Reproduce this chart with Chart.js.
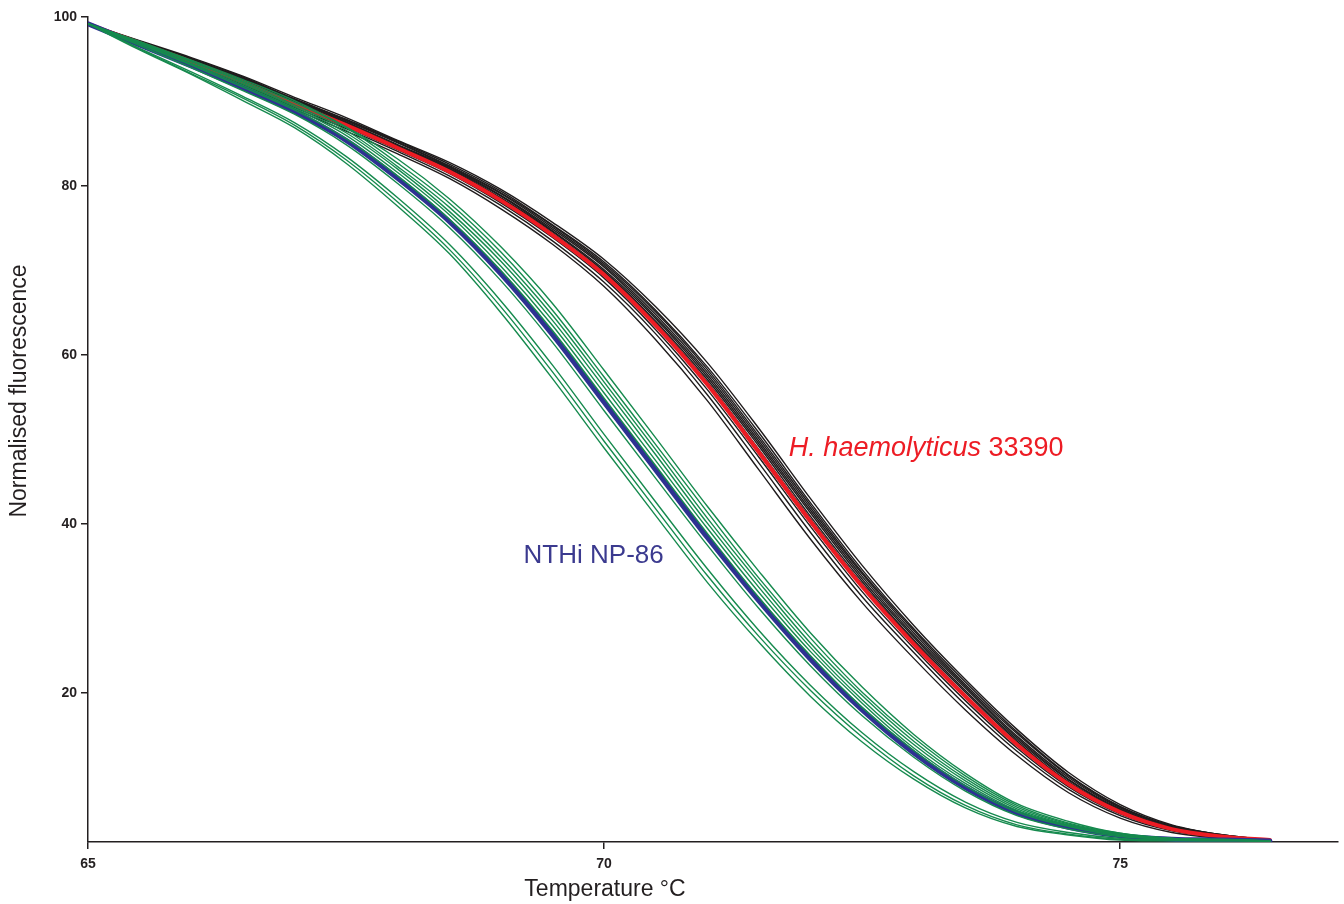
<!DOCTYPE html>
<html>
<head>
<meta charset="utf-8">
<script src="https://cdn.jsdelivr.net/npm/chart.js@4.4.1/dist/chart.umd.min.js"></script>
<style>
  html, body { margin: 0; padding: 0; background: #fff; }
  #wrap { width: 1344px; height: 904px; }
</style>
</head>
<body>
<div id="wrap"><canvas id="melt_Chart" width="1344" height="904"></canvas></div>
<script>
// temperature points (°C)
const temperature = [65, 65.5, 66, 66.5, 67, 67.5, 68, 68.5, 69, 69.5, 70, 70.5, 71, 71.5, 72, 72.5, 73, 73.5, 74, 74.5, 75, 75.5, 76, 76.45];

// H. haemolyticus 33390 reference (red)
const haemolyticus33390 = [99.2, 96.9, 94.7, 92.3, 89.7, 87.2, 84.5, 81.7, 78.3, 74.2, 69.5, 63.5, 56.5, 48.5, 40.3, 32.6, 25.8, 19.6, 13.9, 9.2, 5.9, 3.9, 3.0, 2.6];

// NTHi NP-86 reference (blue)
const nthiNP86 = [99.2, 96.7, 94.2, 91.6, 88.8, 85.4, 80.9, 75.8, 69.6, 62.4, 54.4, 46.4, 38.4, 30.9, 24.0, 18.0, 12.9, 8.8, 5.8, 4.1, 3.1, 2.7, 2.6, 2.5];

// H. haemolyticus isolates (black)
const hhRun1 = [99.2, 96.7, 94.3, 91.8, 89.1, 86.5, 83.8, 80.9, 77.3, 73.1, 68.1, 61.8, 54.6, 46.4, 38.2, 30.7, 24.1, 18.0, 12.6, 8.2, 5.2, 3.5, 2.8, 2.6];
const hhRun2 = [99.2, 96.8, 94.5, 92.0, 89.3, 86.8, 84.1, 81.2, 77.7, 73.5, 68.6, 62.5, 55.3, 47.2, 39.0, 31.4, 24.8, 18.6, 13.1, 8.6, 5.5, 3.7, 2.9, 2.6];
const hhRun3 = [99.2, 96.8, 94.6, 92.1, 89.5, 87.0, 84.3, 81.5, 78.0, 73.9, 69.1, 63.0, 55.9, 47.9, 39.7, 32.0, 25.3, 19.1, 13.5, 8.9, 5.7, 3.8, 2.9, 2.6];
const hhRun4 = [99.2, 96.9, 94.7, 92.3, 89.7, 87.1, 84.4, 81.6, 78.2, 74.1, 69.4, 63.4, 56.4, 48.3, 40.1, 32.5, 25.7, 19.5, 13.8, 9.1, 5.8, 3.9, 3.0, 2.6];
const hhRun5 = [99.2, 96.9, 94.8, 92.4, 89.8, 87.3, 84.6, 81.8, 78.5, 74.4, 69.7, 63.8, 56.8, 48.8, 40.6, 32.9, 26.1, 19.8, 14.1, 9.4, 6.0, 4.0, 3.0, 2.6];
const hhRun6 = [99.2, 97.0, 94.8, 92.5, 89.9, 87.4, 84.7, 82.0, 78.6, 74.6, 69.9, 64.0, 57.1, 49.2, 40.9, 33.2, 26.3, 20.1, 14.3, 9.5, 6.1, 4.0, 3.1, 2.6];
const hhRun7 = [99.2, 97.0, 94.9, 92.6, 90.0, 87.5, 84.8, 82.1, 78.8, 74.7, 70.1, 64.3, 57.4, 49.5, 41.3, 33.5, 26.6, 20.3, 14.5, 9.7, 6.2, 4.1, 3.1, 2.6];
const hhRun8 = [99.2, 97.0, 94.9, 92.6, 90.1, 87.6, 84.9, 82.2, 78.9, 74.9, 70.4, 64.5, 57.7, 49.8, 41.6, 33.8, 26.8, 20.6, 14.7, 9.8, 6.3, 4.1, 3.1, 2.6];
const hhRun9 = [99.2, 97.1, 95.0, 92.7, 90.2, 87.7, 85.1, 82.3, 79.1, 75.1, 70.6, 64.8, 58.0, 50.1, 41.9, 34.1, 27.1, 20.8, 14.9, 10.0, 6.4, 4.2, 3.1, 2.6];
const hhRun10 = [99.2, 97.1, 95.0, 92.8, 90.3, 87.8, 85.2, 82.4, 79.2, 75.3, 70.8, 65.1, 58.3, 50.4, 42.2, 34.3, 27.4, 21.0, 15.2, 10.2, 6.5, 4.3, 3.2, 2.6];
const hhRun11 = [99.2, 97.1, 95.1, 92.9, 90.3, 87.9, 85.3, 82.6, 79.4, 75.4, 71.0, 65.3, 58.6, 50.8, 42.5, 34.6, 27.6, 21.3, 15.4, 10.3, 6.6, 4.3, 3.2, 2.6];
const hhRun12 = [99.2, 97.2, 95.2, 93.0, 90.5, 88.1, 85.4, 82.8, 79.6, 75.7, 71.3, 65.7, 59.1, 51.3, 43.0, 35.1, 28.0, 21.6, 15.7, 10.6, 6.8, 4.4, 3.2, 2.6];

// NTHi isolates (green)
const nthiRun1 = [99.2, 96.1, 93.2, 90.1, 86.9, 82.7, 77.6, 72.0, 65.0, 57.2, 49.0, 41.0, 33.1, 26.0, 19.6, 14.2, 9.8, 6.4, 4.2, 3.2, 2.6, 2.5, 2.5, 2.5];
const nthiRun2 = [99.2, 96.2, 93.3, 90.4, 87.2, 83.1, 78.1, 72.5, 65.7, 58.0, 49.8, 41.8, 33.9, 26.7, 20.3, 14.8, 10.2, 6.7, 4.4, 3.3, 2.7, 2.6, 2.5, 2.5];
const nthiRun3 = [99.2, 96.3, 93.5, 90.6, 87.5, 83.5, 78.6, 73.1, 66.4, 58.8, 50.6, 42.6, 34.7, 27.4, 20.9, 15.3, 10.7, 7.1, 4.7, 3.5, 2.8, 2.6, 2.6, 2.5];
const nthiRun4 = [99.2, 96.6, 94.0, 91.3, 88.5, 84.9, 80.3, 75.1, 68.8, 61.5, 53.4, 45.4, 37.5, 30.0, 23.2, 17.3, 12.4, 8.4, 5.5, 3.9, 3.0, 2.7, 2.6, 2.5];
const nthiRun5 = [99.2, 96.8, 94.3, 91.7, 89.0, 85.6, 81.2, 76.1, 70.0, 62.9, 54.9, 46.9, 38.9, 31.3, 24.4, 18.3, 13.2, 9.0, 5.9, 4.2, 3.1, 2.7, 2.6, 2.5];
const nthiRun6 = [99.2, 96.8, 94.4, 91.9, 89.2, 86.0, 81.6, 76.6, 70.5, 63.5, 55.5, 47.5, 39.5, 31.9, 24.9, 18.8, 13.5, 9.3, 6.1, 4.3, 3.2, 2.7, 2.6, 2.5];
const nthiRun7 = [99.2, 96.9, 94.5, 92.1, 89.4, 86.3, 82.0, 77.0, 71.1, 64.1, 56.2, 48.2, 40.1, 32.5, 25.4, 19.2, 13.9, 9.6, 6.3, 4.4, 3.3, 2.8, 2.6, 2.5];
const nthiRun8 = [99.2, 97.0, 94.7, 92.3, 89.6, 86.6, 82.3, 77.5, 71.6, 64.7, 56.8, 48.8, 40.7, 33.1, 25.9, 19.7, 14.3, 9.9, 6.5, 4.5, 3.3, 2.8, 2.6, 2.5];
const nthiRun9 = [99.2, 97.0, 94.8, 92.4, 89.9, 86.9, 82.7, 78.0, 72.2, 65.3, 57.4, 49.4, 41.4, 33.6, 26.5, 20.1, 14.7, 10.2, 6.7, 4.6, 3.4, 2.8, 2.6, 2.5];
const nthiRun10 = [99.2, 97.1, 94.9, 92.6, 90.1, 87.0, 83.2, 78.5, 72.8, 66.1, 58.2, 50.2, 42.1, 34.4, 27.1, 20.7, 15.1, 10.5, 6.9, 4.8, 3.4, 2.8, 2.7, 2.5];

const xTicks = [65, 70, 75];
const yTicks = [20, 40, 60, 80, 100];

const hhRuns = [hhRun1, hhRun2, hhRun3, hhRun4, hhRun5, hhRun6, hhRun7, hhRun8, hhRun9, hhRun10, hhRun11, hhRun12];
const nthiRuns = [nthiRun1, nthiRun2, nthiRun3, nthiRun4, nthiRun5, nthiRun6, nthiRun7, nthiRun8, nthiRun9, nthiRun10];

const FONT = '"Liberation Sans", Arial, sans-serif';
const INK = '#231f20';

function toPoints(values) {
    return values.map((v, i) => ({ x: temperature[i], y: v }));
}

function curve(values, color, width, order) {
    return {
        data: toPoints(values),
        borderColor: color,
        borderWidth: width,
        pointRadius: 0,
        fill: false,
        cubicInterpolationMode: 'monotone',
        borderCapStyle: 'round',
        borderJoinStyle: 'round',
        order: order
    };
}

const datasets = [];
hhRuns.forEach(r => datasets.push(curve(r, '#1f1b1c', 1.4, 4)));
datasets.push(curve(haemolyticus33390, '#ed1c24', 4, 3));
datasets.push(curve(nthiNP86, '#2e3192', 5, 2));
nthiRuns.forEach(r => datasets.push(curve(r, '#168a4e', 1.4, 1)));

// axis titles and curve labels
const textPlugin = {
    id: 'textPlugin',
    afterDraw(chart) {
        const ctx = chart.ctx;
        const xs = chart.scales.x;
        const ys = chart.scales.y;
        ctx.save();
        ctx.fillStyle = INK;
        ctx.font = '23px ' + FONT;
        ctx.textAlign = 'center';
        ctx.textBaseline = 'middle';
        ctx.fillText('Temperature °C', 605, 890);
        ctx.translate(20, 391);
        ctx.rotate(-Math.PI / 2);
        ctx.fillText('Normalised fluorescence', 0, 0);
        ctx.restore();

        ctx.save();
        ctx.textAlign = 'left';
        ctx.textBaseline = 'alphabetic';
        ctx.fillStyle = '#3b3a8f';
        ctx.font = '26px ' + FONT;
        ctx.fillText('NTHi NP-86', xs.getPixelForValue(69.22), ys.getPixelForValue(35.4));

        const hx = xs.getPixelForValue(71.79);
        const hy = ys.getPixelForValue(48.1);
        ctx.fillStyle = '#ed1c24';
        ctx.font = 'italic 27px ' + FONT;
        const part1 = 'H. haemolyticus';
        ctx.fillText(part1, hx, hy);
        const w1 = ctx.measureText(part1 + ' ').width;
        ctx.font = '27px ' + FONT;
        ctx.fillText('33390', hx + w1, hy);
        ctx.restore();
    }
};

const ctxMelt = document.getElementById('melt_Chart').getContext('2d');
new Chart(ctxMelt, {
    type: 'line',
    data: { datasets: datasets },
    options: {
        responsive: false,
        animation: false,
        layout: { padding: { top: 17, right: 6, left: 0, bottom: 0 } },
        plugins: {
            legend: { display: false },
            tooltip: { enabled: false },
            title: { display: false }
        },
        scales: {
            x: {
                type: 'linear',
                min: 65,
                max: 77.11,
                afterBuildTicks: (scale) => { scale.ticks = xTicks.map(v => ({ value: v })); },
                afterFit: (scale) => { scale.height = 62; },
                border: { display: true, color: INK, width: 1.5 },
                grid: { drawOnChartArea: false, drawTicks: true, tickLength: 7, color: INK, lineWidth: 1.5 },
                ticks: {
                    color: INK,
                    padding: 7,
                    maxRotation: 0,
                    font: { family: FONT, size: 14, weight: 'bold' }
                }
            },
            y: {
                type: 'linear',
                min: 2.37,
                max: 100,
                afterBuildTicks: (scale) => { scale.ticks = yTicks.map(v => ({ value: v })); },
                afterFit: (scale) => { scale.width = 88; },
                border: { display: true, color: INK, width: 1.5 },
                grid: { drawOnChartArea: false, drawTicks: true, tickLength: 7, color: INK, lineWidth: 1.5 },
                ticks: {
                    color: INK,
                    padding: 4,
                    font: { family: FONT, size: 14, weight: 'bold' }
                }
            }
        }
    },
    plugins: [textPlugin]
});
</script>
</body>
</html>
